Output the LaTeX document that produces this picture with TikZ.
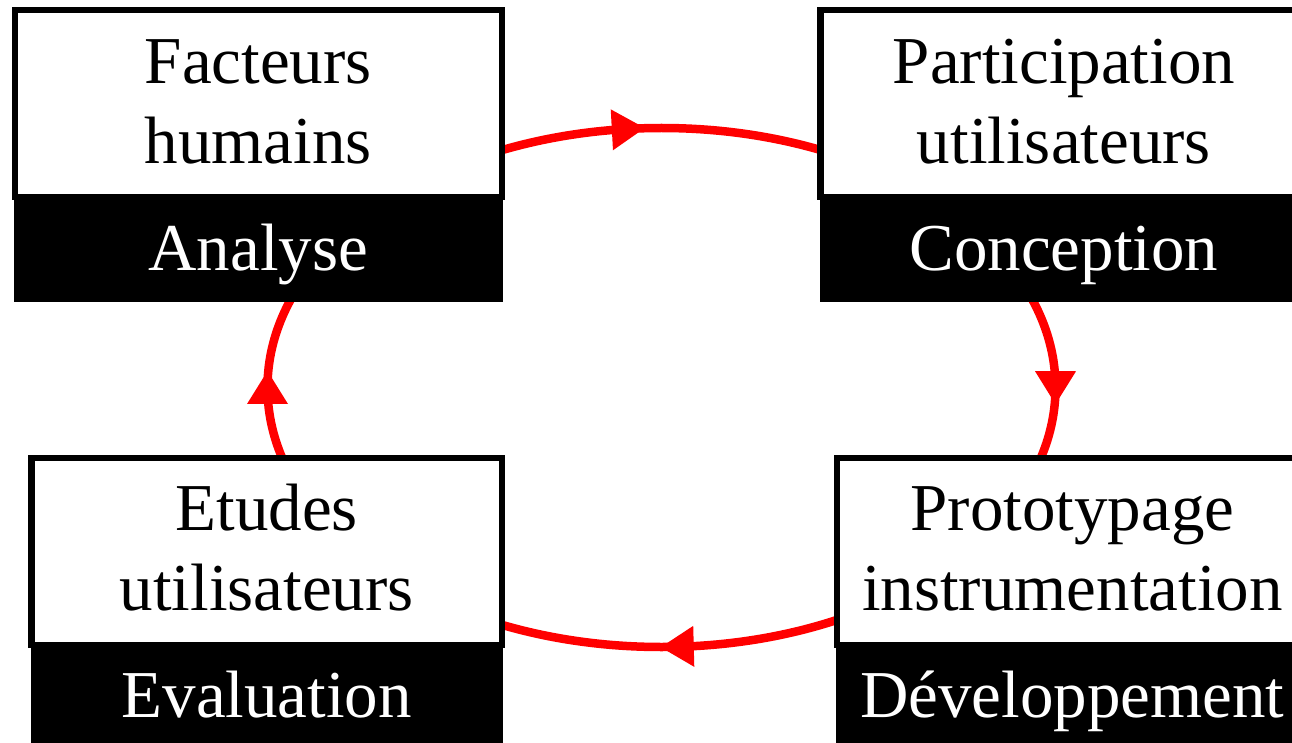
\documentclass[tikz,border=0pt]{standalone}
\usepackage{fontspec}
\setmainfont{Liberation Serif}
\usetikzlibrary{decorations.markings}

% large serif type used in every box
\newcommand\stagefont{\fontsize{67pt}{80pt}\selectfont}
% two centred lines whose baseline is that of the first line
\newcommand\twolines[2]{\vtop{\halign{\hfil##\hfil\cr #1\cr #2\cr}}}
% filled triangular arrowhead, drawn in the frame of a marking
\newcommand\cyctip{\fill[red] (-16.5pt,-20.5pt) -- (16.5pt,0pt) -- (-16.5pt,20.5pt) -- cycle;}

\tikzset{
  stage/.style={draw=black, line width=6.3pt, fill=white, inner sep=0pt, outer sep=0pt,
    minimum height=187pt, text height=73pt, text depth=114pt, font=\stagefont},
  phase/.style={fill=black, text=white, inner sep=0pt, outer sep=0pt, anchor=north,
    text height=75.7pt, text depth=31.7pt, font=\stagefont},
  cyclepath/.style={draw=red, line width=8.5pt, postaction=decorate,
    decoration={markings,
      mark=at position 0.0001 with {\cyctip},
      mark=at position 0.2424 with {\cyctip},
      mark=at position 0.5 with {\cyctip},
      mark=at position 0.734 with {\cyctip}}}
}

\begin{document}
\begin{tikzpicture}[x=1pt, y=-1pt]
  \useasboundingbox (0,0) rectangle (1292,743);
  \clip (0,0) rectangle (1292,743);

  % the design cycle
  \coordinate (hub) at (661.5,387.5);
  \path[cyclepath] (hub) ellipse [x radius=394, y radius=259.5];

  % activities
  \node[stage, minimum width=486.9pt] (fh) at (258.3,103.65) {\twolines{Facteurs}{humains}};
  \node[stage, minimum width=486.9pt] (pu) at (1063.95,103.65) {\twolines{Participation}{utilisateurs}};
  \node[stage, minimum width=470.4pt] (eu) at (266.7,551.15) {\twolines{Etudes}{utilisateurs}};
  \node[stage, minimum width=470.4pt] (pi) at (1072.4,551.15) {\twolines{Prototypage}{instrumentation}};

  % phases
  \node[phase, minimum width=488.7pt] (an) at (258.3,194.3) {Analyse};
  \node[phase, minimum width=488.7pt] (co) at (1063.95,194.3) {Conception};
  \node[phase, minimum width=472pt] (ev) at (266.7,641.7) {Evaluation};
  \node[phase, minimum width=472pt] (dv) at (1072.4,641.7) {Développement};
\end{tikzpicture}
\end{document}
